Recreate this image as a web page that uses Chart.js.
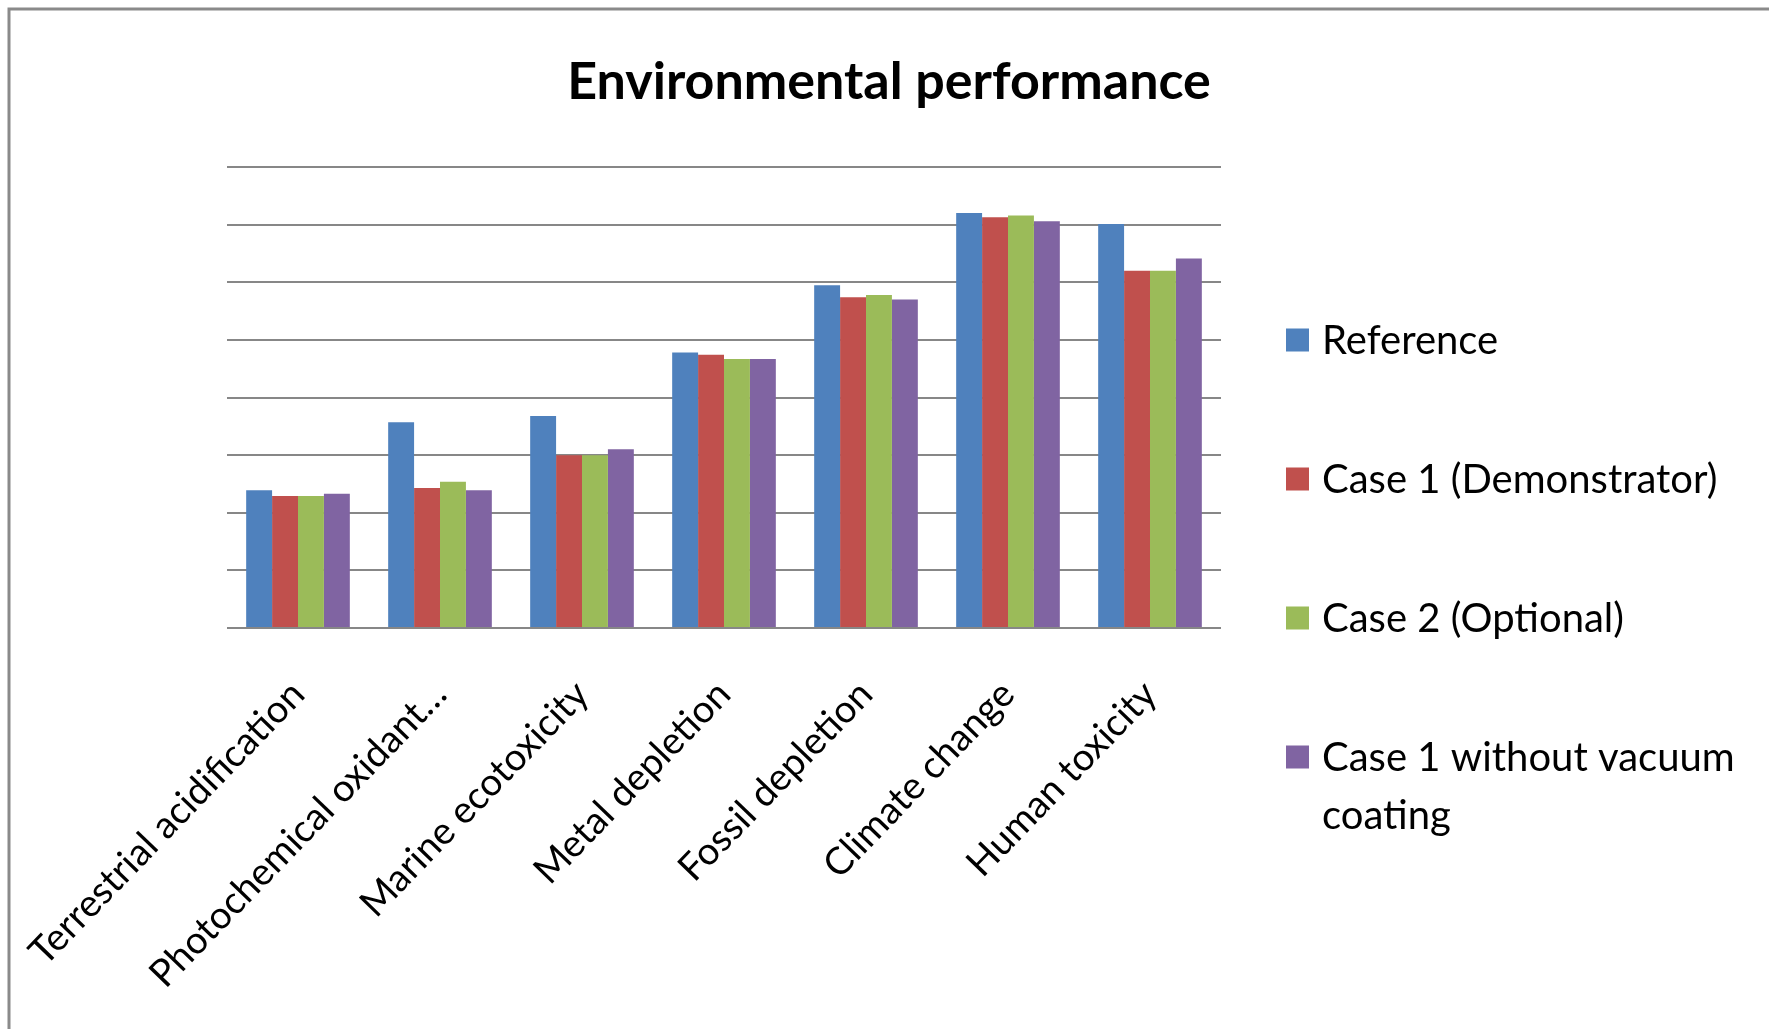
<!DOCTYPE html>
<html>
<head>
<meta charset="utf-8">
<title>Environmental performance</title>
<script src="https://cdn.jsdelivr.net/npm/chart.js@4.4.1/dist/chart.umd.min.js"></script>
<style>
  html, body { margin: 0; padding: 0; background: #fff; }
  #wrap { width: 1769px; height: 1029px; position: relative; }
</style>
</head>
<body>
<div id="wrap"><canvas id="envChart"></canvas></div>
<script>
// ===== Data =====
const categories = [
  'Terrestrial acidification',
  'Photochemical oxidant\u2026',
  'Marine ecotoxicity',
  'Metal depletion',
  'Fossil depletion',
  'Climate change',
  'Human toxicity'
];

const seriesNames = [
  'Reference',
  'Case 1 (Demonstrator)',
  'Case 2 (Optional)',
  'Case 1 without vacuum coating'
];

const seriesColors = ['#4f81bd', '#c0504d', '#9bbb59', '#8064a2'];

const referenceValues      = [2.39, 3.57, 3.68, 4.78, 5.95, 7.20, 7.01];
const case1Values          = [2.29, 2.43, 3.00, 4.74, 5.74, 7.13, 6.20];
const case2Values          = [2.29, 2.54, 3.00, 4.67, 5.78, 7.16, 6.20];
const case1NoCoatingValues = [2.33, 2.39, 3.10, 4.67, 5.70, 7.06, 6.41];

// gridline range (no tick labels shown)
const yMin = 0;
const yMax = 8;
const yStep = 1;

const chartTitle = 'Environmental performance';

const FONT = 'Lato, "Open Sans", "DejaVu Sans", sans-serif';

// ===== Plugins =====
// white background + grey frame around the chart
const framePlugin = {
  id: 'frame',
  beforeDraw(chart) {
    const { ctx, width, height } = chart;
    ctx.save();
    ctx.fillStyle = '#ffffff';
    ctx.fillRect(0, 0, width, height);
    ctx.strokeStyle = '#8a8a8a';
    ctx.lineWidth = 3;
    ctx.beginPath();
    ctx.moveTo(9, height);
    ctx.lineTo(9, 9);
    ctx.lineTo(width, 9);
    ctx.stroke();
    ctx.restore();
  }
};

// title centred over plot + legend (not just the plot area)
const titlePlugin = {
  id: 'wideTitle',
  afterDraw(chart) {
    const { ctx, chartArea } = chart;
    ctx.save();
    ctx.font = `bold 52px ${FONT}`;
    ctx.fillStyle = '#000000';
    ctx.textAlign = 'center';
    ctx.textBaseline = 'alphabetic';
    ctx.fillText(chartTitle, 889, chartArea.top - 68);
    ctx.restore();
  }
};

function wrapText(ctx, text, maxWidth) {
  const words = text.split(' ');
  const lines = [];
  let line = '';
  words.forEach(w => {
    const test = line ? line + ' ' + w : w;
    if (line && ctx.measureText(test).width > maxWidth) {
      lines.push(line);
      line = w;
    } else {
      line = test;
    }
  });
  if (line) lines.push(line);
  return lines;
}

// legend on the right, labels may wrap onto a second line
const sideLegendPlugin = {
  id: 'sideLegend',
  afterDraw(chart) {
    const { ctx, chartArea, width } = chart;
    const box = 23;
    const boxX = chartArea.right + 65;
    const textX = boxX + 36;
    const firstY = chartArea.top + 173;
    const gap = 139;
    const lineGap = 58;
    const fontSize = 40;

    ctx.save();
    ctx.font = `${fontSize}px ${FONT}`;
    ctx.textBaseline = 'alphabetic';
    ctx.textAlign = 'left';
    chart.data.datasets.forEach((ds, i) => {
      const cy = firstY + i * gap;
      ctx.fillStyle = ds.backgroundColor;
      ctx.fillRect(boxX, cy - box / 2, box, box);
      ctx.fillStyle = '#000000';
      const lines = wrapText(ctx, ds.label, width - textX - 15);
      lines.forEach((t, j) => {
        ctx.fillText(t, textX, cy + fontSize * 0.36 + j * lineGap);
      });
    });
    ctx.restore();
  }
};

// ===== Chart =====
const datasetValues = [referenceValues, case1Values, case2Values, case1NoCoatingValues];

const ctx = document.getElementById('envChart');

const envChart = new Chart(ctx, {
  type: 'bar',
  data: {
    labels: categories,
    datasets: seriesNames.map((name, i) => ({
      label: name,
      data: datasetValues[i],
      backgroundColor: seriesColors[i],
      borderWidth: 0,
      barPercentage: 1,
      categoryPercentage: 0.73
    }))
  },
  options: {
    responsive: true,
    maintainAspectRatio: false,
    animation: false,
    layout: {
      padding: { left: 0, right: 548, top: 167, bottom: 0 }
    },
    plugins: {
      legend: { display: false },
      tooltip: { enabled: false },
      title: { display: false }
    },
    scales: {
      x: {
        grid: { display: false },
        border: { display: false },
        ticks: {
          color: '#000000',
          font: { family: FONT, size: 38 },
          minRotation: 46,
          maxRotation: 46,
          autoSkip: false,
          padding: 36
        },
        afterFit(scale) {
          scale.height = 401;
          scale.paddingLeft = 0;
          scale.paddingRight = 0;
        }
      },
      y: {
        min: yMin,
        max: yMax,
        ticks: { display: false, stepSize: yStep },
        grid: { color: '#878787', lineWidth: 2, drawTicks: false },
        border: { display: false },
        afterFit(scale) {
          scale.width = 227;
        }
      }
    }
  },
  plugins: [framePlugin, titlePlugin, sideLegendPlugin]
});
</script>
</body>
</html>
